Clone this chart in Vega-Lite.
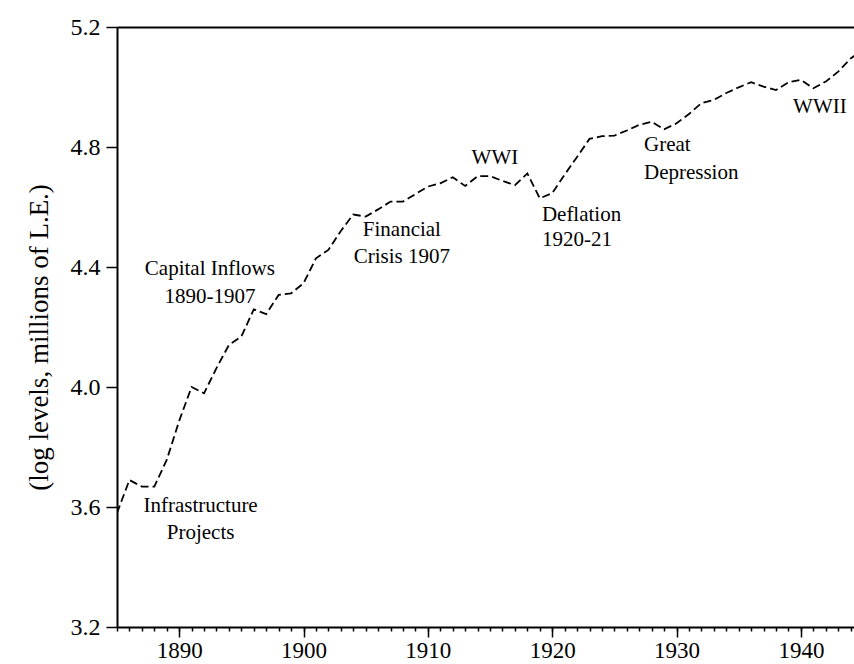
{
  "$schema": "https://vega.github.io/schema/vega-lite/v6.json",
  "width": 737,
  "height": 600,
  "autosize": {"type": "none"},
  "padding": {"left": 117, "top": 27, "right": 0, "bottom": 37},
  "background": "white",
  "config": {"view": {"stroke": null}, "font": "Liberation Serif"},
  "datasets": {
    "series": [
      {"year": 1885, "value": 3.58}, {"year": 1886, "value": 3.69}, {"year": 1887, "value": 3.668},
      {"year": 1888, "value": 3.668}, {"year": 1889, "value": 3.757}, {"year": 1890, "value": 3.887},
      {"year": 1891, "value": 4.0}, {"year": 1892, "value": 3.979}, {"year": 1893, "value": 4.063},
      {"year": 1894, "value": 4.14}, {"year": 1895, "value": 4.168}, {"year": 1896, "value": 4.259},
      {"year": 1897, "value": 4.243}, {"year": 1898, "value": 4.307}, {"year": 1899, "value": 4.312},
      {"year": 1900, "value": 4.346}, {"year": 1901, "value": 4.429}, {"year": 1902, "value": 4.457},
      {"year": 1903, "value": 4.52}, {"year": 1904, "value": 4.575}, {"year": 1905, "value": 4.568},
      {"year": 1906, "value": 4.592}, {"year": 1907, "value": 4.618}, {"year": 1908, "value": 4.618},
      {"year": 1909, "value": 4.643}, {"year": 1910, "value": 4.668}, {"year": 1911, "value": 4.679},
      {"year": 1912, "value": 4.699}, {"year": 1913, "value": 4.67}, {"year": 1914, "value": 4.703},
      {"year": 1915, "value": 4.703}, {"year": 1916, "value": 4.687}, {"year": 1917, "value": 4.673},
      {"year": 1918, "value": 4.712}, {"year": 1919, "value": 4.629}, {"year": 1920, "value": 4.646},
      {"year": 1921, "value": 4.708}, {"year": 1922, "value": 4.767}, {"year": 1923, "value": 4.827},
      {"year": 1924, "value": 4.836}, {"year": 1925, "value": 4.838}, {"year": 1926, "value": 4.855},
      {"year": 1927, "value": 4.874}, {"year": 1928, "value": 4.884}, {"year": 1929, "value": 4.859},
      {"year": 1930, "value": 4.879}, {"year": 1931, "value": 4.91}, {"year": 1932, "value": 4.946},
      {"year": 1933, "value": 4.957}, {"year": 1934, "value": 4.98}, {"year": 1935, "value": 4.999},
      {"year": 1936, "value": 5.016}, {"year": 1937, "value": 5.001}, {"year": 1938, "value": 4.99},
      {"year": 1939, "value": 5.016}, {"year": 1940, "value": 5.024}, {"year": 1941, "value": 4.996},
      {"year": 1942, "value": 5.018}, {"year": 1943, "value": 5.051}, {"year": 1944, "value": 5.095},
      {"year": 1945, "value": 5.125}
    ],
    "notesCenter": [
      {"year": 1891.72, "value": 3.602, "label": "Infrastructure"},
      {"year": 1891.72, "value": 3.512, "label": "Projects"},
      {"year": 1892.47, "value": 4.392, "label": "Capital Inflows"},
      {"year": 1892.47, "value": 4.30, "label": "1890-1907"},
      {"year": 1907.91, "value": 4.523, "label": "Financial"},
      {"year": 1907.91, "value": 4.434, "label": "Crisis 1907"},
      {"year": 1915.39, "value": 4.762, "label": "WWI"},
      {"year": 1941.53, "value": 4.932, "label": "WWII"}
    ],
    "notesLeft": [
      {"year": 1919.17, "value": 4.573, "label": "Deflation"},
      {"year": 1919.17, "value": 4.49, "label": "1920-21"},
      {"year": 1927.38, "value": 4.807, "label": "Great"},
      {"year": 1927.38, "value": 4.714, "label": "Depression"}
    ]
  },
  "layer": [
    {
      "data": {"name": "series"},
      "mark": {"type": "line", "color": "black", "strokeWidth": 1.8, "strokeDash": [8, 4], "clip": true},
      "encoding": {
        "x": {
          "field": "year", "type": "quantitative",
          "scale": {"domain": [1885, 1944.27], "nice": false, "zero": false},
          "axis": {
            "orient": "bottom",
            "values": [1885,1886,1887,1888,1889,1890,1891,1892,1893,1894,1895,1896,1897,1898,1899,1900,1901,1902,1903,1904,1905,1906,1907,1908,1909,1910,1911,1912,1913,1914,1915,1916,1917,1918,1919,1920,1921,1922,1923,1924,1925,1926,1927,1928,1929,1930,1931,1932,1933,1934,1935,1936,1937,1938,1939,1940,1941,1942,1943,1944],
            "labels": false, "title": null, "grid": false,
            "tickSize": 4, "tickWidth": 1.5, "tickColor": "black",
            "domain": true, "domainWidth": 2, "domainColor": "black"
          }
        },
        "y": {
          "field": "value", "type": "quantitative",
          "scale": {"domain": [3.2, 5.2], "nice": false, "zero": false},
          "axis": {
            "values": [3.2, 3.6, 4.0, 4.4, 4.8, 5.2], "format": ".1f", "grid": false,
            "tickSize": 11, "tickWidth": 1.5, "tickColor": "black",
            "domainWidth": 2, "domainColor": "black",
            "labelFont": "Liberation Serif", "labelFontSize": 24, "labelColor": "black", "labelPadding": 6,
            "title": "(log levels, millions of L.E.)",
            "titleFont": "Liberation Serif", "titleFontSize": 27, "titleFontWeight": "normal", "titleColor": "black",
            "titleX": -78, "titleY": 310, "titleAngle": -90, "titleAlign": "center", "titleBaseline": "middle"
          }
        }
      }
    },
    {
      "data": {"name": "notesCenter"},
      "mark": {"type": "text", "font": "Liberation Serif", "fontSize": 21, "color": "black", "align": "center", "baseline": "middle"},
      "encoding": {
        "x": {
          "field": "year", "type": "quantitative",
          "axis": {
            "orient": "bottom", "values": [1890, 1900, 1910, 1920, 1930, 1940], "format": "d",
            "title": null, "grid": false, "domain": false,
            "tickSize": 10, "tickWidth": 1.5, "tickColor": "black",
            "labelFont": "Liberation Serif", "labelFontSize": 23, "labelColor": "black", "labelPadding": 2
          }
        },
        "y": {"field": "value", "type": "quantitative", "axis": null},
        "text": {"field": "label"}
      }
    },
    {
      "data": {"name": "notesLeft"},
      "mark": {"type": "text", "font": "Liberation Serif", "fontSize": 21, "color": "black", "align": "left", "baseline": "middle"},
      "encoding": {
        "x": {
          "field": "year", "type": "quantitative",
          "axis": {
            "orient": "top", "ticks": false, "labels": false, "title": null, "grid": false,
            "domain": true, "domainWidth": 2, "domainColor": "black"
          }
        },
        "y": {"field": "value", "type": "quantitative", "axis": null},
        "text": {"field": "label"}
      }
    }
  ],
  "resolve": {"axis": {"x": "independent", "y": "independent"}}
}
